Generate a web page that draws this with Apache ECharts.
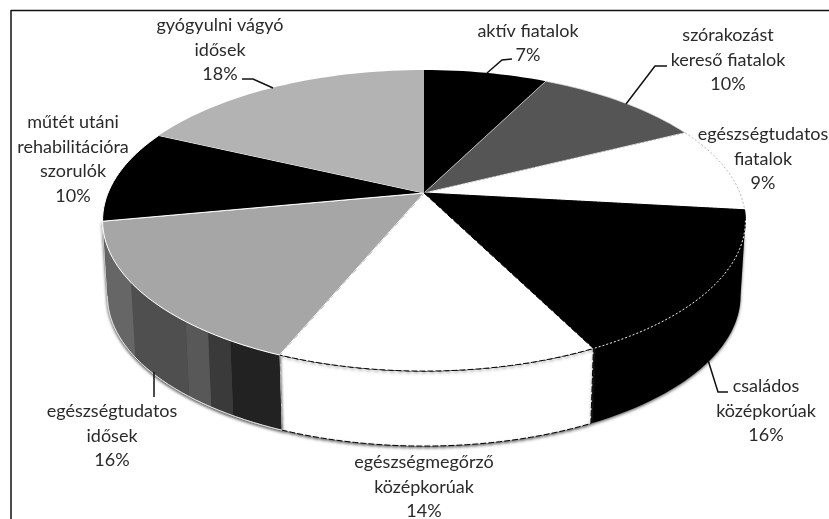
<!DOCTYPE html>
<html><head><meta charset="utf-8">
<style>html,body{margin:0;padding:0;background:#fff}#c{width:829px;height:519px;filter:blur(.45px)}</style>
<script src="https://cdn.jsdelivr.net/npm/echarts@6/dist/echarts.min.js"></script>
</head><body><div id="c"></div>
<script>
const categories = ['aktív fiatalok','szórakozást\nkereső fiatalok','egészségtudatos\nfiatalok','családos\nközépkorúak','egészségmegőrző\nközépkorúak','egészségtudatos\nidősek','műtét utáni\nrehabilitációra\nszorulók','gyógyulni vágyó\nidősek'];
// slice sizes; they round to the printed percentages
const values = [7.4,10.2,9.2,15.8,13.6,15.8,10,18];

// styles and layout
const topFill = ['#000','#555','#fff','#000','#fff','#a6a6a6','#000','#b3b3b3'];
const topLine = [
  {stroke:'#000',lineWidth:0},{stroke:'#ddd',lineWidth:.7},{stroke:'#999',lineWidth:.7,lineDash:[2,2]},
  {stroke:'#000',lineWidth:1},{stroke:'#000',lineWidth:1,lineDash:[6,2]},{stroke:'#fff',lineWidth:1},
  {stroke:'#fff',lineWidth:1},{stroke:'#b3b3b3',lineWidth:0}];
const labelPos = [[528,43],[728,60],[763,159],[766,411],[424,487],[112,436],[73,159],[220,50]];
const leaders = [
  [[512,59],[502,60],[487,73]],[[667,66],[655,66],[626,104]],null,
  [[728,392],[718,392],[708,360]],null,[[154,397],[154,372]],null,[[242,79],[253,79],[273,88]]];
const bands = [[0,.155,'#222'],[.155,.233,'#3a3a3a'],[.233,.32,'#585858'],[.32,.6,'#4f4f4f'],[.6,1,'#666']];

const cx=424, cy=193, A=316, B=145.5, k=.183, depth=75, lowScale=.985;
const total = values.reduce((a,b)=>a+b,0);
const cum = values.reduce((r,v)=>{r.push(r[r.length-1]+v);return r;},[0]);
const ang = p => p/total*360*Math.PI/180;
function proj(t,low){
  const x=Math.sin(t), y=Math.cos(t), d=1+k*y;
  const X=A*x/d, Y=cy-B*y/d;
  return low ? [cx+X*lowScale,Y+depth] : [cx+X,Y];
}
function arc(a,b,low){
  const n=Math.max(2,Math.ceil(Math.abs(b-a)/0.03)), o=[];
  for(let i=0;i<=n;i++) o.push(proj(a+(b-a)*i/n,low));
  return o;
}
const frontA=Math.acos(-k), frontB=2*Math.PI-frontA;

function wallPoly(a,b){ return arc(a,b,false).concat(arc(b,a,true)); }

function renderWall(params,api){
  const i=params.dataIndex;
  let a=ang(cum[i]), b=ang(cum[i+1]);
  a=Math.max(a,frontA); b=Math.min(b,frontB);
  if(a>=b) return {type:'group',children:[]};
  const fill=topFill[i];
  const children=[];
  if(i===5){
    children.push({type:'polygon',shape:{points:wallPoly(a,b)},style:{fill:'#444',stroke:'#fff',lineWidth:1,shadowColor:'rgba(60,60,60,.9)',shadowBlur:3,shadowOffsetY:1.5}});
    bands.forEach(s=>children.push({type:'polygon',shape:{points:wallPoly(a+(b-a)*s[0],a+(b-a)*s[1])},style:{fill:s[2]}}));
    children.push({type:'polyline',shape:{points:arc(a,b,true)},style:{stroke:'#ddd',lineWidth:1,fill:null}});
  } else {
    const w=fill==='#fff';
    children.push({type:'polygon',shape:{points:wallPoly(a,b)},style:{fill,
      stroke:'#000',lineWidth:w?1:0,lineDash:w?[6,2]:null,
      shadowColor:'rgba(70,70,70,.8)',shadowBlur:3,shadowOffsetY:1.5}});
  }
  return {type:'group',children};
}
function renderTop(params,api){
  const i=params.dataIndex, a=ang(cum[i]), b=ang(cum[i+1]);
  const pts=[[cx,cy]].concat(arc(a,b,false));
  const kids=[{type:'polygon',shape:{points:pts},style:Object.assign({fill:topFill[i]},topLine[i])}];
  if(i===3) kids.push({type:'polyline',shape:{points:arc(Math.max(a,frontA),b,false)},style:{stroke:'#eee',lineWidth:1,lineDash:[2,2],fill:null}});
  return {type:'group',children:kids};
}
function renderLabel(params,api){
  const i=params.dataIndex, kids=[];
  if(leaders[i]) kids.push({type:'polyline',shape:{points:leaders[i]},style:{stroke:'#111',lineWidth:1.5,fill:null}});
  kids.push({type:'text',style:{text:categories[i]+'\n'+Math.round(values[i])+'%',x:labelPos[i][0],y:labelPos[i][1],
    align:'center',verticalAlign:'middle',font:'18px Lato',lineHeight:24.5,fill:'#2a2a2a'}});
  return {type:'group',children:kids};
}
const data=values.map((v,i)=>[i,v]);
const chart=echarts.init(document.getElementById('c'),null,{renderer:'canvas'});
chart.setOption({
  animation:false,backgroundColor:'#fff',tooltip:{show:false},
  graphic:[
    {type:'line',shape:{x1:11,y1:10.5,x2:829,y2:10.5},style:{stroke:'#111',lineWidth:1.5},silent:true},
    {type:'line',shape:{x1:11,y1:10,x2:11,y2:519},style:{stroke:'#111',lineWidth:1.5},silent:true}
  ],
  series:[
    {type:'custom',coordinateSystem:'none',renderItem:renderWall,data,silent:true,z:2},
    {type:'custom',coordinateSystem:'none',renderItem:renderTop,data,silent:true,z:3},
    {type:'custom',coordinateSystem:'none',renderItem:renderLabel,data,silent:true,z:4}
  ]
});
</script></body></html>
